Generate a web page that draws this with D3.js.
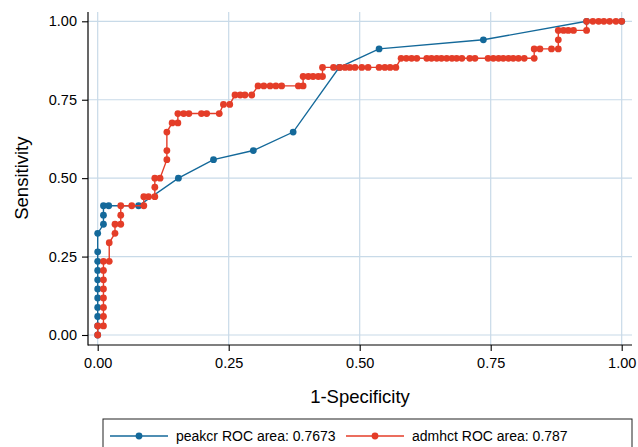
<!DOCTYPE html>
<html>
<head>
<meta charset="utf-8">
<script src="https://cdn.jsdelivr.net/npm/d3@7"></script>
<style>
  body { margin: 0; background: #fff; }
  svg { display: block; font-family: "Liberation Sans", Arial, Helvetica, sans-serif; }
</style>
</head>
<body>
<div id="chart"></div>
<script>
// peakcr ROC points (1-specificity, sensitivity)
let peakcrX = [0, 0, 0, 0, 0, 0, 0, 0, 0, 0, 0, 0.011, 0.011, 0.011, 0.021, 0.078,
    0.154, 0.221, 0.297, 0.373, 0.461, 0.537, 0.736, 0.933, 1];
let peakcrY = [0, 0.029, 0.059, 0.088, 0.118, 0.147, 0.176, 0.206, 0.235, 0.265, 0.324,
    0.353, 0.382, 0.412, 0.412, 0.412, 0.5, 0.559, 0.588, 0.647, 0.853, 0.912, 0.941, 1, 1];

// admhct ROC points
let admhctX = [0, 0, 0.011, 0.011, 0.011, 0.011, 0.011, 0.011, 0.011, 0.011, 0.022, 0.022,
    0.033, 0.033, 0.044, 0.044, 0.044, 0.065, 0.088, 0.088, 0.097, 0.109, 0.109, 0.109, 0.119,
    0.132, 0.132, 0.132, 0.142, 0.153, 0.153, 0.164, 0.174, 0.198, 0.208, 0.232, 0.240, 0.252,
    0.262, 0.272, 0.281, 0.294, 0.306, 0.317, 0.329, 0.340, 0.351, 0.383, 0.392, 0.392, 0.402,
    0.411, 0.421, 0.429, 0.429, 0.450, 0.462, 0.472, 0.481, 0.491, 0.504, 0.516, 0.537, 0.548,
    0.558, 0.569, 0.579, 0.589, 0.599, 0.609, 0.628, 0.637, 0.647, 0.656, 0.666, 0.676, 0.685,
    0.695, 0.710, 0.720, 0.745, 0.755, 0.765, 0.774, 0.784, 0.793, 0.803, 0.814, 0.833, 0.833,
    0.844, 0.866, 0.879, 0.879, 0.879, 0.889, 0.898, 0.908, 0.933, 0.933, 0.945, 0.956, 0.966,
    0.977, 0.989, 1];
let admhctY = [0, 0.029, 0.029, 0.059, 0.088, 0.118, 0.147, 0.176, 0.206, 0.235, 0.235, 0.294,
    0.324, 0.353, 0.353, 0.382, 0.412, 0.412, 0.412, 0.441, 0.441, 0.441, 0.471, 0.5, 0.5,
    0.559, 0.588, 0.647, 0.676, 0.676, 0.706, 0.706, 0.706, 0.706, 0.706, 0.706, 0.735, 0.735,
    0.765, 0.765, 0.765, 0.765, 0.794, 0.794, 0.794, 0.794, 0.794, 0.794, 0.794, 0.824, 0.824,
    0.824, 0.824, 0.824, 0.853, 0.853, 0.853, 0.853, 0.853, 0.853, 0.853, 0.853, 0.853, 0.853,
    0.853, 0.853, 0.882, 0.882, 0.882, 0.882, 0.882, 0.882, 0.882, 0.882, 0.882, 0.882, 0.882,
    0.882, 0.882, 0.882, 0.882, 0.882, 0.882, 0.882, 0.882, 0.882, 0.882, 0.882, 0.882, 0.912,
    0.912, 0.912, 0.912, 0.941, 0.971, 0.971, 0.971, 0.971, 0.971, 1, 1, 1, 1, 1, 1, 1];

let tickValues = [0, 0.25, 0.5, 0.75, 1];
let seriesNames = ["peakcr ROC area: 0.7673", "admhct ROC area: 0.787"];

let colors = ["#14699a", "#e43d28"];
let gridColor = "#c8dae8";

let width = 638, height = 447;
let plot = {left: 88, right: 632, top: 12, bottom: 345};

let svg = d3.select("#chart").append("svg")
    .attr("width", width)
    .attr("height", height);

let x = d3.scaleLinear().domain([0, 1]).range([97.7, 621.7]);
let y = d3.scaleLinear().domain([0, 1]).range([335, 21.3]);

// grid lines
svg.append("g").selectAll("line.hgrid")
    .data(tickValues).enter().append("line")
    .attr("x1", plot.left).attr("x2", plot.right)
    .attr("y1", d => y(d)).attr("y2", d => y(d))
    .attr("stroke", gridColor).attr("stroke-width", 1.2);
svg.append("g").selectAll("line.vgrid")
    .data(tickValues).enter().append("line")
    .attr("x1", d => x(d)).attr("x2", d => x(d))
    .attr("y1", plot.top).attr("y2", plot.bottom)
    .attr("stroke", gridColor).attr("stroke-width", 1.2);

// axes
let fmt = d3.format(".2f");
let yAxis = svg.append("g")
    .attr("transform", "translate(" + plot.left + ",0)")
    .call(d3.axisLeft(y).tickValues(tickValues).tickFormat(fmt).tickSize(6).tickPadding(5));
let xAxis = svg.append("g")
    .attr("transform", "translate(0," + plot.bottom + ")")
    .call(d3.axisBottom(x).tickValues(tickValues).tickFormat(fmt).tickSize(6).tickPadding(7));
[xAxis, yAxis].forEach(function(a) {
    a.select(".domain").remove();
    a.selectAll("text").attr("font-size", 14.5).attr("fill", "#000")
        .attr("font-family", "Liberation Sans, Arial, sans-serif");
    a.selectAll("line").attr("stroke", "#000").attr("stroke-width", 1.1);
});
svg.append("line")
    .attr("x1", plot.left).attr("x2", plot.left)
    .attr("y1", plot.top).attr("y2", plot.bottom + 0.5)
    .attr("stroke", "#000").attr("stroke-width", 1.2);
svg.append("line")
    .attr("x1", plot.left).attr("x2", plot.right)
    .attr("y1", plot.bottom).attr("y2", plot.bottom)
    .attr("stroke", "#000").attr("stroke-width", 1.2);

// axis titles
svg.append("text")
    .attr("x", (plot.left + plot.right) / 2).attr("y", 403)
    .attr("text-anchor", "middle").attr("font-size", 18.5)
    .text("1-Specificity");
svg.append("text")
    .attr("transform", "translate(28," + y(0.5) + ") rotate(-90)")
    .attr("text-anchor", "middle").attr("font-size", 18.5)
    .text("Sensitivity");

// series
let series = [
    d3.zip(peakcrX, peakcrY),
    d3.zip(admhctX, admhctY)
];
let line = d3.line().x(d => x(d[0])).y(d => y(d[1]));

series.forEach(function(pts, i) {
    let g = svg.append("g");
    g.append("path")
        .attr("d", line(pts))
        .attr("fill", "none")
        .attr("stroke", colors[i])
        .attr("stroke-width", 1.4);
    g.selectAll("circle")
        .data(pts).enter().append("circle")
        .attr("cx", d => x(d[0]))
        .attr("cy", d => y(d[1]))
        .attr("r", 3.4)
        .attr("fill", colors[i]);
});

// legend
let legend = svg.append("g");
legend.append("rect")
    .attr("x", 103).attr("y", 419)
    .attr("width", 529).attr("height", 40)
    .attr("fill", "#fff").attr("stroke", "#222").attr("stroke-width", 1);
let keyX = [110, 346];
seriesNames.forEach(function(name, i) {
    let k = legend.append("g").attr("transform", "translate(" + keyX[i] + ",436)");
    k.append("line").attr("x1", 0).attr("x2", 58).attr("y1", 0).attr("y2", 0)
        .attr("stroke", colors[i]).attr("stroke-width", 1.4);
    k.append("circle").attr("cx", 29).attr("cy", 0).attr("r", 3.4).attr("fill", colors[i]);
    k.append("text").attr("x", 66).attr("y", 5).attr("font-size", 14).text(name);
});
</script>
</body>
</html>
